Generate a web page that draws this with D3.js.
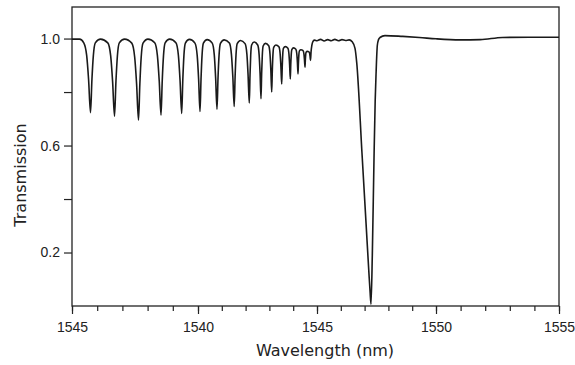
<!DOCTYPE html>
<html>
<head>
<meta charset="utf-8">
<script src="https://cdn.jsdelivr.net/npm/d3@7/dist/d3.min.js"></script>
<style>
  body { margin: 0; background: #fff; }
  svg { display: block; font-family: "DejaVu Sans", sans-serif; }
  .tick text { fill: #222; }
</style>
</head>
<body>
<div id="chart"></div>
<script>
// wavelength (nm), transmission
const combTrace = [
  [1535.00, 0.998], [1535.30, 0.998], [1535.467, 0.984], [1535.582, 0.937], [1535.658, 0.847], [1535.734, 0.723], [1535.791, 0.847], [1535.848, 0.937], [1535.925, 0.984], [1536.134, 0.998],
  [1536.420, 0.984], [1536.535, 0.935], [1536.611, 0.840], [1536.687, 0.710], [1536.744, 0.840], [1536.801, 0.935], [1536.877, 0.984], [1537.087, 0.998],
  [1537.372, 0.983], [1537.487, 0.931], [1537.563, 0.831], [1537.639, 0.695], [1537.693, 0.831], [1537.746, 0.931], [1537.818, 0.983], [1538.014, 0.998],
  [1538.282, 0.984], [1538.389, 0.936], [1538.461, 0.842], [1538.532, 0.714], [1538.581, 0.842], [1538.631, 0.936], [1538.696, 0.984], [1538.877, 0.998],
  [1539.123, 0.984], [1539.222, 0.937], [1539.287, 0.845], [1539.353, 0.720], [1539.397, 0.845], [1539.441, 0.936], [1539.499, 0.983], [1539.660, 0.997],
  [1539.879, 0.983], [1539.967, 0.938], [1540.026, 0.848], [1540.084, 0.727], [1540.127, 0.848], [1540.170, 0.937], [1540.227, 0.983], [1540.384, 0.996],
  [1540.598, 0.983], [1540.684, 0.939], [1540.741, 0.853], [1540.798, 0.736], [1540.841, 0.853], [1540.885, 0.938], [1540.943, 0.982], [1541.102, 0.995],
  [1541.319, 0.983], [1541.405, 0.940], [1541.463, 0.858], [1541.521, 0.746], [1541.559, 0.857], [1541.597, 0.939], [1541.648, 0.981], [1541.787, 0.993],
  [1541.977, 0.981], [1542.054, 0.942], [1542.104, 0.864], [1542.155, 0.759], [1542.185, 0.862], [1542.214, 0.937], [1542.253, 0.976], [1542.362, 0.987],
  [1542.509, 0.976], [1542.568, 0.940], [1542.608, 0.870], [1542.647, 0.775], [1542.674, 0.868], [1542.701, 0.936], [1542.737, 0.972], [1542.836, 0.982],
  [1542.971, 0.973], [1543.025, 0.942], [1543.061, 0.882], [1543.097, 0.800], [1543.122, 0.879], [1543.147, 0.937], [1543.181, 0.967], [1543.273, 0.976],
  [1543.399, 0.969], [1543.450, 0.944], [1543.483, 0.896], [1543.517, 0.830], [1543.539, 0.893], [1543.560, 0.939], [1543.589, 0.963], [1543.669, 0.970],
  [1543.777, 0.964], [1543.820, 0.943], [1543.849, 0.903], [1543.878, 0.849], [1543.897, 0.901], [1543.917, 0.939], [1543.943, 0.959], [1544.014, 0.965],
  [1544.111, 0.960], [1544.150, 0.944], [1544.176, 0.912], [1544.202, 0.868], [1544.220, 0.909], [1544.237, 0.938], [1544.261, 0.954], [1544.325, 0.958],
  [1544.414, 0.955], [1544.449, 0.944], [1544.472, 0.922], [1544.496, 0.893], [1544.510, 0.920], [1544.524, 0.939], [1544.542, 0.949], [1544.593, 0.952],
  [1544.662, 0.950], [1544.690, 0.945], [1544.709, 0.933], [1544.727, 0.918], [1544.750, 0.950], [1544.785, 0.975], [1544.835, 0.990]
];
const plateauTrace = [
  [1544.90, 0.994], [1545.00, 0.992], [1545.15, 0.997], [1545.30, 0.991], [1545.45, 0.996], [1545.60, 0.992],
  [1545.75, 0.997], [1545.90, 0.992], [1546.05, 0.996], [1546.20, 0.993], [1546.35, 0.995], [1546.48, 0.988]
];
const notchTrace = [
  [1546.597, 0.963], [1546.668, 0.911], [1546.891, 0.570], [1547.059, 0.312], [1547.185, 0.118], [1547.227, 0.058],
  [1547.269, 0.007], [1547.324, 0.189], [1547.395, 0.551], [1547.445, 0.768], [1547.479, 0.862], [1547.534, 0.974],
  [1547.584, 0.996], [1547.647, 1.004], [1547.857, 1.011]
];
const tailTrace = [
  [1548.6, 1.008], [1549.3, 1.004], [1550.0, 0.999], [1550.97, 0.995], [1551.8, 0.996],
  [1552.7, 1.004], [1553.8, 1.005], [1555.0, 1.005]
];

const xMajorTicks = [1535, 1540, 1545, 1550, 1555];
const xTickLabels = ["1545", "1540", "1545", "1550", "1555"]; // as printed
const yTicks = [0.2, 0.4, 0.6, 0.8, 1.0];
const yTickLabels = ["0.2", "", "0.6", "", "1.0"];

const width = 575, height = 365;
const margin = {left: 72, right: 559, top: 7, bottom: 306};

const svg = d3.select('#chart').append('svg')
  .attr('width', width)
  .attr('height', height);

// the scanned axis is slightly uneven, so map each 5 nm span separately
const x = d3.scaleLinear()
  .domain(xMajorTicks)
  .range([margin.left, 198, 317, 436, margin.right]);

const y = d3.scaleLinear()
  .domain([0, 1.118])
  .range([margin.bottom, margin.top]);

// frame
svg.append('rect')
  .attr('x', margin.left).attr('y', margin.top)
  .attr('width', margin.right - margin.left).attr('height', margin.bottom - margin.top)
  .attr('fill', 'none')
  .attr('stroke', '#222')
  .attr('stroke-width', 1.3);

// minor x ticks every nm
const xMinor = svg.append('g')
  .attr('transform', `translate(0,${margin.bottom})`)
  .call(d3.axisBottom(x).tickValues(d3.range(1535, 1556, 1)).tickSize(5).tickFormat(''));
xMinor.select('.domain').remove();

const xAxis = svg.append('g')
  .attr('transform', `translate(0,${margin.bottom})`)
  .call(d3.axisBottom(x).tickValues(xMajorTicks).tickSize(8).tickPadding(8)
    .tickFormat((d, i) => xTickLabels[i]));
xAxis.select('.domain').remove();

const yAxis = svg.append('g')
  .attr('transform', `translate(${margin.left},0)`)
  .call(d3.axisLeft(y).tickValues(yTicks).tickSize(8).tickPadding(4)
    .tickFormat((d, i) => yTickLabels[i]));
yAxis.select('.domain').remove();

svg.selectAll('.tick line').attr('stroke', '#222').attr('stroke-width', 1.2);
svg.selectAll('.tick text').style('font-size', '14px');

// trace
const trace = [...combTrace, ...plateauTrace, ...notchTrace, ...tailTrace];
const line = d3.line()
  .x(d => x(d[0]))
  .y(d => y(d[1]))
  .curve(d3.curveMonotoneX);

svg.append('path')
  .datum(trace)
  .attr('fill', 'none')
  .attr('stroke', '#1a1a1a')
  .attr('stroke-width', 1.6)
  .attr('stroke-linejoin', 'round')
  .attr('d', line);

// axis titles
svg.append('text')
  .attr('x', 325)
  .attr('y', 356)
  .attr('text-anchor', 'middle')
  .style('font-size', '16px')
  .attr('fill', '#222')
  .text('Wavelength (nm)');

svg.append('text')
  .attr('transform', 'translate(26,175) rotate(-90)')
  .attr('text-anchor', 'middle')
  .style('font-size', '16px')
  .attr('fill', '#222')
  .text('Transmission');
</script>
</body>
</html>
